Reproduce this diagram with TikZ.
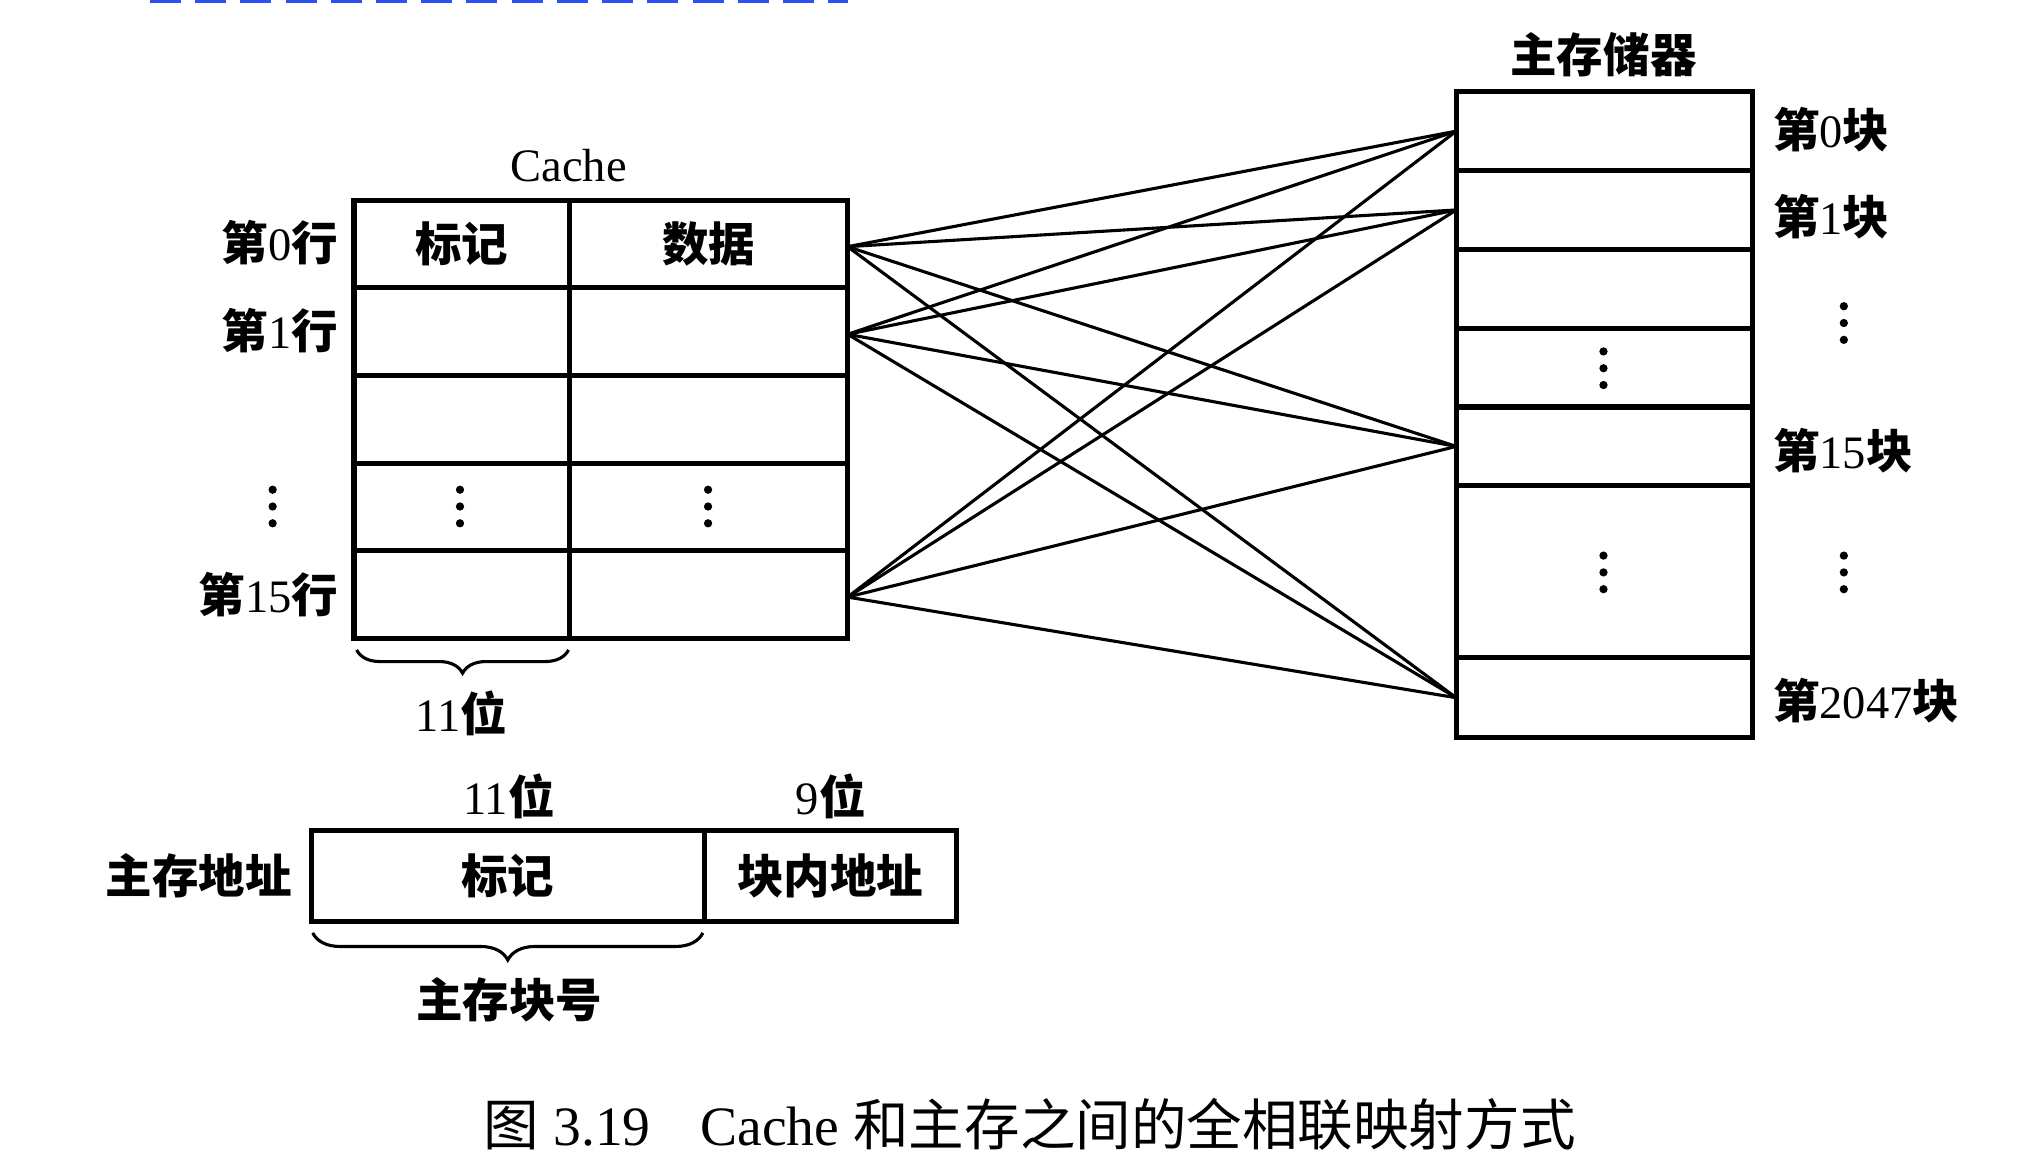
\documentclass[tikz,border=0pt]{standalone}
\usepackage{fontspec}
\setmainfont{Liberation Serif}
\newfontfamily\cjk{Noto Sans CJK SC}
\usetikzlibrary{decorations.pathreplacing}
\newcommand\zh[1]{{\cjk\bfseries #1}}
\newcommand\zhr[1]{{\cjk #1}}
\newcommand\tridots[2]{\fill (#1,#2-13) circle (3.2pt) (#1,#2) circle (3.2pt) (#1,#2+13) circle (3.2pt);}
\definecolor{dashblue}{RGB}{45,80,245}
\begin{document}
\begin{tikzpicture}[x=1pt,y=-1pt,
  cellbox/.style={draw, line width=4pt, inner sep=0pt, outer sep=0pt, font=\fontsize{36}{40}\selectfont},
  lbl/.style={inner sep=0pt, font=\fontsize{36}{40}\selectfont},
  caplbl/.style={inner sep=0pt, font=\fontsize{43}{48}\selectfont},
  link/.style={line width=2.4pt},
  bracepath/.style={decorate, decoration={brace, mirror, amplitude=#1}, line width=2.4pt}]
\useasboundingbox (0,0) rectangle (1568,899);
% top dashed blue line
\draw[dashblue, line width=2.4pt, dash pattern=on 24pt off 11pt] (116,1.2) -- (656,1.2);

% Cache
\node[lbl] (cachet) at (440,128) {Cache};
\foreach \i/\y in {0/188.9,1/256.7,2/324.5,3/392.3,4/460.1}{
  \node[cellbox, minimum width=167pt, minimum height=67.8pt] (t\i) at (357.5,\y) {};
  \node[cellbox, minimum width=215pt, minimum height=67.8pt] (d\i) at (548.5,\y) {};
}
\node[lbl] (tagh) at (t0) {\zh{标记}};
\node[lbl] (datah) at (d0) {\zh{数据}};
\tridots{356}{392}
\tridots{548}{392}
\node[lbl, anchor=east] (r0) at (262,188) {\zh{第}0\zh{行}};
\node[lbl, anchor=east] (r1) at (262,256) {\zh{第}1\zh{行}};
\node[lbl, anchor=east] (r15) at (262,460) {\zh{第}15\zh{行}};
\tridots{211}{392}
\draw[bracepath=18pt] (276,503) -- (440,503);
\node[lbl] (b11) at (357,552) {11\zh{位}};

% Main memory
\node[lbl] (memt) at (1241,42) {\zh{主存储器}};
\foreach \i/\y/\h in {0/101.5/61,1/162.5/61,2/223.5/61,3/284.5/61,4/345.5/61,5/442.5/133,6/540/62}{
  \node[cellbox, minimum width=229pt, minimum height=\h pt] (m\i) at (1241.5,\y) {};
}
\tridots{1241}{285}
\tridots{1241}{443}
\node[lbl, anchor=west] (k0) at (1372,100) {\zh{第}0\zh{块}};
\node[lbl, anchor=west] (k1) at (1372,168) {\zh{第}1\zh{块}};
\tridots{1427}{250}
\node[lbl, anchor=west] (k15) at (1372,349) {\zh{第}15\zh{块}};
\tridots{1427}{443}
\node[lbl, anchor=west] (k2047) at (1372,542) {\zh{第}2047\zh{块}};

% connectors
\foreach \c in {d0,d1,d4}{
  \foreach \m in {m0,m1,m4,m6}{
    \draw[link] ([yshift=-2pt]\c.east) -- (\m.west);
  }
}

% main memory address
\node[cellbox, minimum width=304pt, minimum height=70pt] (atag) at (393,678) {\zh{标记}};
\node[cellbox, minimum width=195pt, minimum height=70pt] (aoff) at (642.5,678) {\zh{块内地址}};
\node[lbl, anchor=east] (addr) at (226,678) {\zh{主存地址}};
\node[lbl] (w11) at (394,616) {11\zh{位}};
\node[lbl] (w9) at (643,616) {9\zh{位}};
\draw[bracepath=21pt] (242,722) -- (544,722);
\node[lbl] (blkno) at (394,774) {\zh{主存块号}};

% caption
\node[caplbl] (cap) at (797,870) {\zhr{图} 3.19\hspace{0.9em}Cache \zhr{和主存之间的全相联映射方式}};
\end{tikzpicture}
\end{document}
